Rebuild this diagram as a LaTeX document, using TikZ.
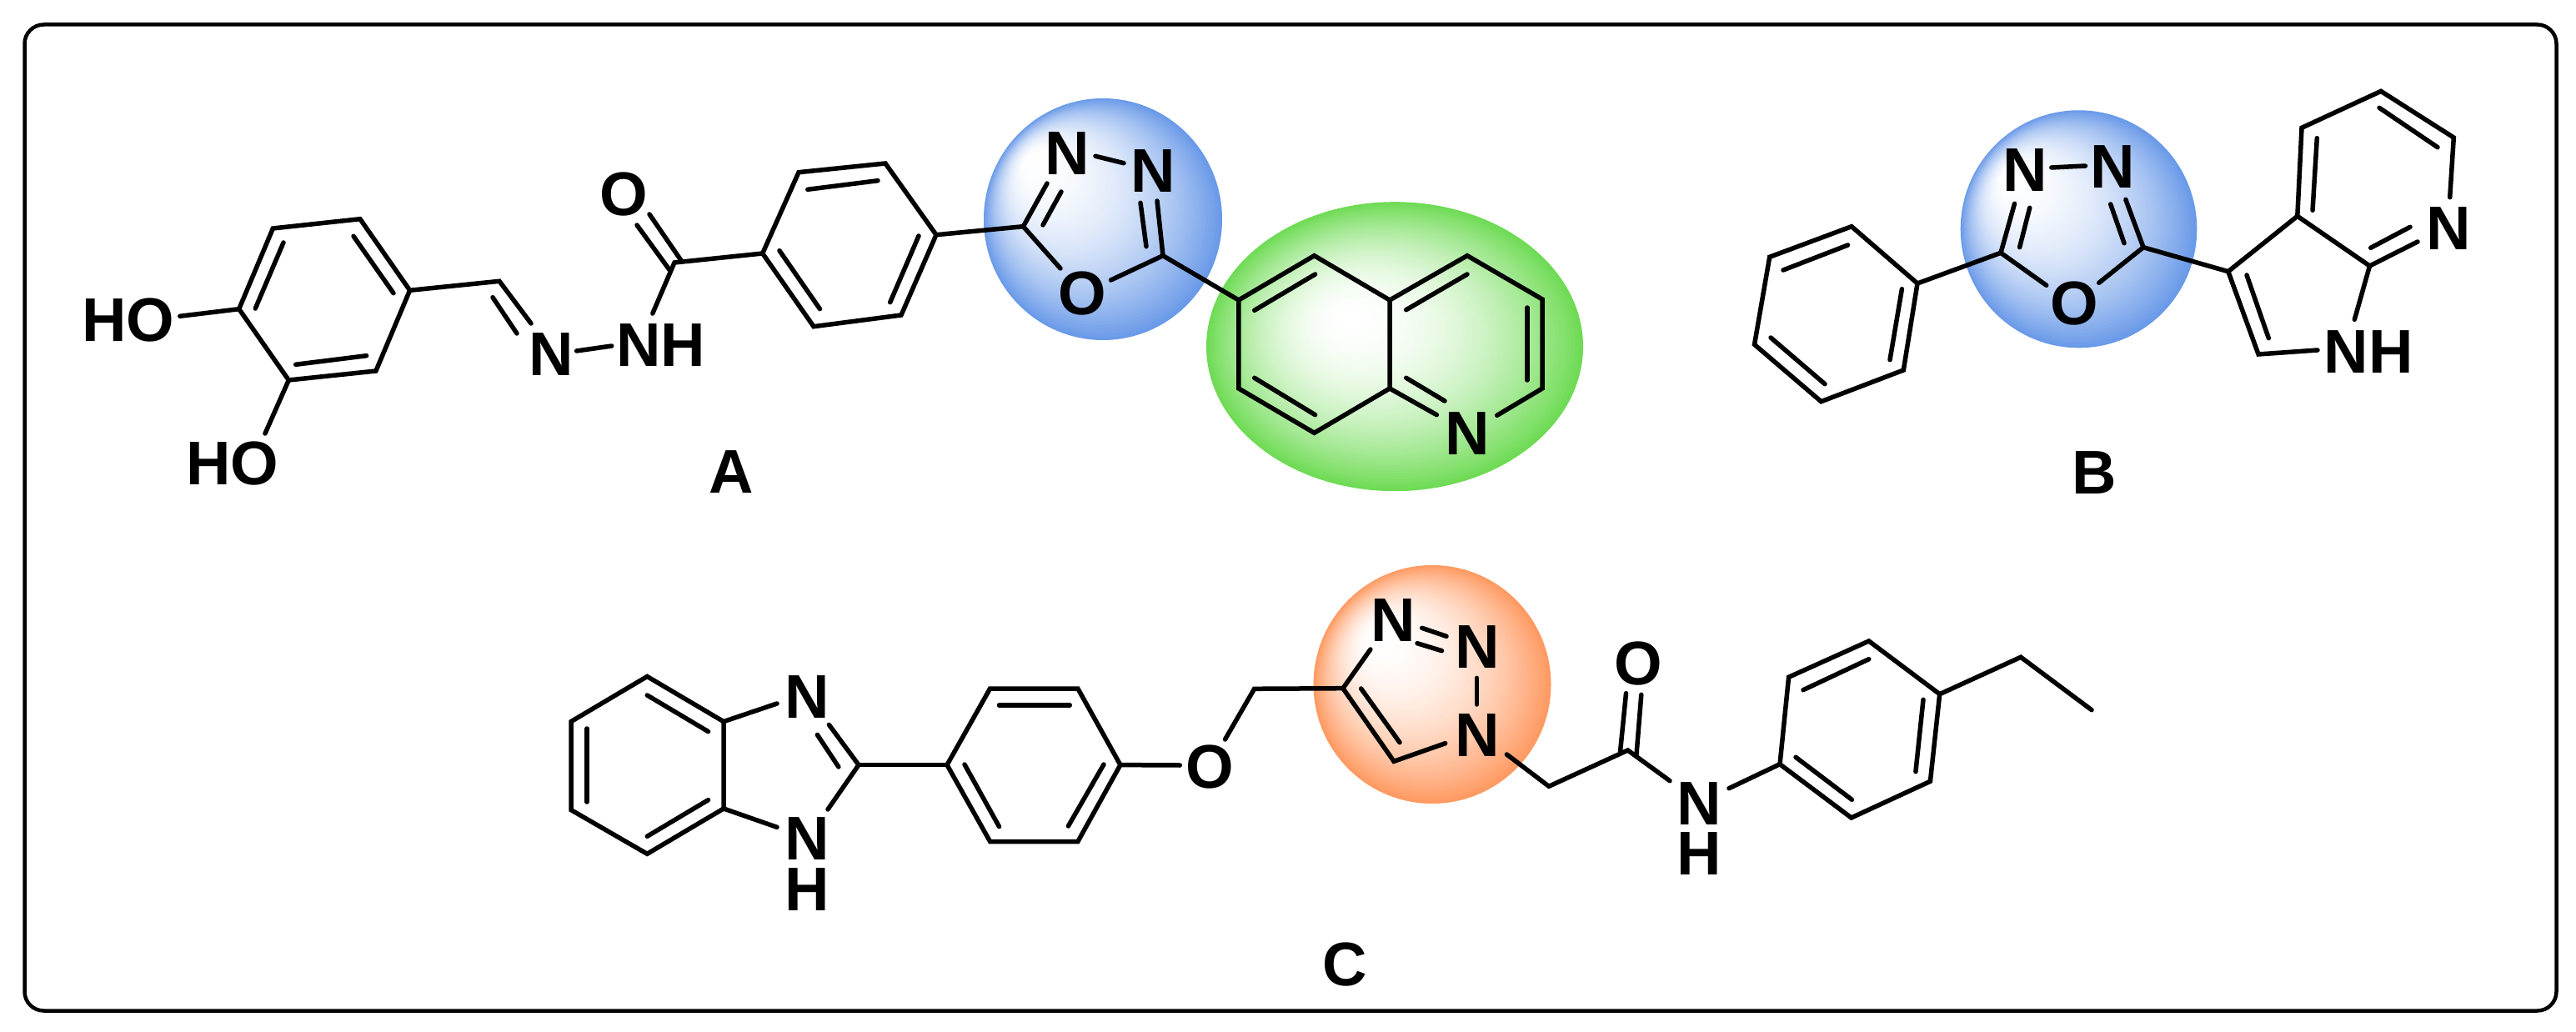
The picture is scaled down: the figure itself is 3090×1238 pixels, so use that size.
\documentclass[tikz,border=0pt]{standalone}
\usepackage{fontspec}
\setmainfont{Liberation Sans}
\definecolor{ballblue}{HTML}{6A9AE8}
\definecolor{ballgreen}{HTML}{6FDB55}
\definecolor{ballorange}{HTML}{FF9A62}
\newcommand{\ballfill}[7]{%
  \foreach \i in {0,...,59}{%
    \pgfmathsetmacro\tt{1-\i/60}%
    \pgfmathsetmacro\mm{100*(1-\tt*\tt)}%
    \pgfmathsetmacro\ccx{#5+(#1-#5)*\tt}%
    \pgfmathsetmacro\ccy{#6+(#2-#6)*\tt}%
    \pgfmathsetmacro\rrx{#3*\tt}%
    \pgfmathsetmacro\rry{#4*\tt}%
    \fill[white!\mm!#7] (\ccx,\ccy) ellipse [x radius=\rrx, y radius=\rry];
  }%
}
\newcommand{\pts}[1]{\foreach \n/\x/\y in {#1}{\coordinate (\n) at (\x,\y);}}
\newcommand{\bonds}[1]{\foreach \u/\v in {#1}{\draw[bond] (\u) -- (\v);}}
\tikzset{
  bond/.style={line width=5.5pt,line cap=round,line join=miter,black},
  atom/.style={inner sep=0pt,outer sep=0pt,font=\fontsize{74}{74}\selectfont\bfseries,black},
  atomstack/.style={inner sep=0pt,outer sep=0pt,align=center,font=\fontsize{74}{60.7}\selectfont\bfseries,black},
  frame/.style={line width=4.5pt,rounded corners=23pt,black}
}
\begin{document}
\begin{tikzpicture}[x=1pt,y=-1pt]
\useasboundingbox (0,0) rectangle (3090,1238);
\draw[frame] (29.5,29.5) rectangle (3066.5,1212.5);
% highlights
\ballfill{1323}{263}{143}{145}{1235}{190}{ballblue}
\ballfill{1673}{415.7}{226}{173.5}{1617}{380}{ballgreen}
\ballfill{2493.5}{274.8}{141.8}{142.5}{2407}{210}{ballblue}
\ballfill{1718}{821}{142.5}{143}{1650}{760}{ballorange}
% atoms and labels
\node[atom] (HOa) at (154,384) {HO};
\node[atom] (HOb) at (279,556) {HO};
\node[atom] (Nim) at (661,425) {N};
\node[atom] (NHam) at (792.5,414) {NH};
\node[atom] (Oam) at (748,233.5) {O};
\node[atom] (Nox1) at (1280,183.7) {N};
\node[atom] (Nox2) at (1383,205.5) {N};
\node[atom] (Oox) at (1298,352.5) {O};
\node[atom] (Nq) at (1760,520.5) {N};
\node[atom] (labA) at (877.5,566) {A};
\node[atom] (Nbx1) at (2429,204.5) {N};
\node[atom] (Nbx2) at (2534,200.3) {N};
\node[atom] (Obx) at (2488.5,364.5) {O};
\node[atom] (Npy) at (2937.5,274) {N};
\node[atom] (NHpy) at (2841,422) {NH};
\node[atom] (labB) at (2512,567) {B};
\node[atom] (Nbi) at (968,836) {N};
\node[atomstack] (NHbi) at (968,1036.5) {N\\H};
\node[atom] (Oet) at (1451.3,920.5) {O};
\node[atom] (Nt1) at (1671,744.5) {N};
\node[atom] (Nt2) at (1772,776.5) {N};
\node[atom] (Nt3) at (1772,882) {N};
\node[atom] (Oac) at (1965,796) {O};
\node[atomstack] (Nac) at (2038,994) {N\\H};
\node[atom] (labC) at (1613,1157) {C};
% skeleton A
\pts{a1/327.4/274,a2/431.9/262.7,a3/491.6/348.3,a4/450.9/445,a5/346.3/456,a6/286.7/370.7,
 a1i/340/291,a6i/306.3/370,a2i/424/283.3,a3i/472/351.7,a4i/439.6/426.7,a5i/354.7/437.3,
 hoA/215.8/379.3,hoB/318/520,b1/599/337.3,b1n/637/388,b1i/591/356.7,b1j/620/400,
 nn1/691.6/421,nn2/733.7/415,nh1/782.8/376,cam/809/315,co1a/804/325,co1b/764/270,co2a/816.5/311.7,co2b/779/257,
 c1/914.7/304,c2/958/206.7,c3/1062/196,c4/1123/281.7,c5/1081/378,c6/976/391.7,
 c2i/968.8/227.3,c3i/1053/216.7,c4i/1102/283,c5i/1067.7/362.7,c6i/983.5/370.7,c1i/935/300.7,
 d1/1227.4/271.7,d1n/1256/220,d1i/1273/230,d1j/1251/270,d1o/1272/322,
 nna/1314/187.3,nnb/1348/195.7,n2a/1388/241,d2/1395/306.7,n2i/1368/243.3,n2j/1375/295.7,d2o/1332.5/336,
 e1/1485.8/360,e2/1576.5/306.7,e3/1667/360,e4/1760/306.7,e5/1850/359,e6/1850/466,e7/1667/466,e8/1576.5/519.3,e9/1485.8/466,
 e1i/1504.7/372.3,e2i/1577.6/329,e3i/1686.7/371.7,e4i/1760/329,e5i/1832/369,e6i/1832/456,
 e7n/1723.4/497.7,e7i/1686.7/453.3,e7j/1733/481,e6n/1795.7/498.3,e8i/1577.6/497.7,e9i/1504.7/453.3}
\draw[bond] (a1)--(a2)--(a3)--(a4)--(a5)--(a6)--cycle;
\draw[bond] (c1)--(c2)--(c3)--(c4)--(c5)--(c6)--cycle;
\draw[bond] (e1)--(e2)--(e3)--(e4)--(e5)--(e6)--(e6n);
\draw[bond] (e3)--(e7)--(e8)--(e9)--(e1);
\draw[bond] (a3)--(b1)--(b1n);
\draw[bond] (nh1)--(cam)--(c1);
\draw[bond] (d1n)--(d1)--(d1o);
\draw[bond] (n2a)--(d2)--(d2o);
\bonds{a1i/a6i,a2i/a3i,a4i/a5i,a6/hoA,a5/hoB,b1i/b1j,nn1/nn2,co1a/co1b,co2a/co2b,
 c2i/c3i,c4i/c5i,c6i/c1i,c4/d1,d1i/d1j,nna/nnb,n2i/n2j,d2/e1,
 e1i/e2i,e3i/e4i,e5i/e6i,e7/e7n,e7i/e7j,e8i/e9i}
% skeleton B
\pts{f1/2300/340,f2/2221/271.7,f3/2122.7/308.3,f4/2104.5/413.3,f5/2184.5/481.7,f6/2283.3/444,
 f2i/2216.6/294,f3i/2139/324,f4i/2124/405,f5i/2189/460.7,f6i/2267/431.7,f1i/2281.4/346.7,
 g1/2400/303.3,g1n/2416.5/244.3,g1i/2434.7/249.3,g1j/2422.6/296.7,g1o/2454.7/342.3,
 bna/2460.8/201,bnb/2501.4/199,g2/2571/296.7,g2n/2549.8/239.3,g2i/2531.7/245,g2j/2548/291.7,g2o/2517.7/339.3,
 h1/2672.8/325.7,h2/2755.8/259.3,h3/2842.5/319,h3n/2900/290,h3i/2843.7/297.3,h3j/2891/272.3,h3h/2824.3/383.3,
 h4/2709/425,h4n/2780/420,h1i/2695/330,h4i/2721.3/405.7,
 h5/2761/153.3,h6/2856/109.4,h7/2943.3/165,h7n/2938.7/236.7,h2i/2774/252.3,h5i/2779.3/165.7,h6i/2854/129.3,h7i/2924/176.7}
\draw[bond] (f1)--(f2)--(f3)--(f4)--(f5)--(f6)--cycle;
\draw[bond] (g1n)--(g1)--(g1o);
\draw[bond] (g2n)--(g2)--(g2o);
\draw[bond] (h3n)--(h3)--(h2)--(h1)--(h4)--(h4n);
\draw[bond] (h2)--(h5)--(h6)--(h7)--(h7n);
\bonds{f2i/f3i,f4i/f5i,f6i/f1i,f1/g1,g1i/g1j,bna/bnb,g2i/g2j,g2/h1,h3i/h3j,h3/h3h,h1i/h4i,h2i/h5i,h6i/h7i}
% skeleton C
\pts{i1/776.3/811.5,i2/868/865.6,i3/868/970,i4/776.3/1024.3,i5/685/971.6,i6/685/865.6,
 i1i/776.3/834,i2i/849.6/877.6,i3i/849.6/959.6,i4i/776.3/1003.3,i5i/704/962,i6i/704/874,
 i2n/932/844,i3n/932/992.3,cim/1030/917.6,cimn/994.4/869.4,cimi/980.4/881.4,cimj/1005.9/920,cimh/993/971,
 j1/1136/917.6,j2/1187.6/826,j3/1292.9/826,j4/1343.9/917.6,j5/1292.9/1009.5,j6/1187.6/1009.5,
 j2i/1198.5/846,j3i/1283.3/846,j4i/1324/917,j5i/1281.4/991,j6i/1198.5/991.6,j1i/1157/917,
 jo/1415.3/918,ko/1469.5/887,k/1504.6/826.3,t1/1610.9/825.7,t1n/1643.9/779,
 na1/1705.6/753.3,na2/1735/763.3,nb1/1700/771.7,nb2/1729.5/780.7,nc1/1771.6/813.3,nc2/1771.6/845,
 t2/1672/913.3,t1i/1632.6/826,t2i/1679/890.7,t2n/1733.7/891.7,
 m1/1807.4/905,m2/1857.9/943.3,m3/1952.6/900,mo1a/1943.5/901.7,mo1b/1950.5/831.7,mo2a/1963/905,mo2b/1968.8/833.3,mn/2003/936.7,
 nq/2074/945.7,n1/2135/916.7,n2/2145.6/812.3,n3/2241.8/769,n4/2326.7/832.7,n5/2315.4/937.3,n6/2220.7/981,
 n2i/2163/827.7,n3i/2241.8/790.7,n4i/2307/839.3,n5i/2297.9/925.7,n6i/2221.4/959.3,n1i/2154/908.3,
 p1/2424/788.3,p2/2509/851.7}
\draw[bond] (i1)--(i2)--(i3)--(i4)--(i5)--(i6)--cycle;
\draw[bond] (j1)--(j2)--(j3)--(j4)--(j5)--(j6)--cycle;
\draw[bond] (n1)--(n2)--(n3)--(n4)--(n5)--(n6)--cycle;
\draw[bond] (cimn)--(cim)--(cimh);
\draw[bond] (ko)--(k)--(t1)--(t2)--(t2n);
\draw[bond] (t1)--(t1n);
\draw[bond] (m1)--(m2)--(m3)--(mn);
\draw[bond] (n4)--(p1)--(p2);
\bonds{i1i/i2i,i3i/i4i,i5i/i6i,i2/i2n,i3/i3n,cimi/cimj,cim/j1,j2i/j3i,j4i/j5i,j6i/j1i,j4/jo,
 na1/na2,nb1/nb2,nc1/nc2,t1i/t2i,mo1a/mo1b,mo2a/mo2b,nq/n1,n2i/n3i,n4i/n5i,n6i/n1i}
\end{tikzpicture}
\end{document}
